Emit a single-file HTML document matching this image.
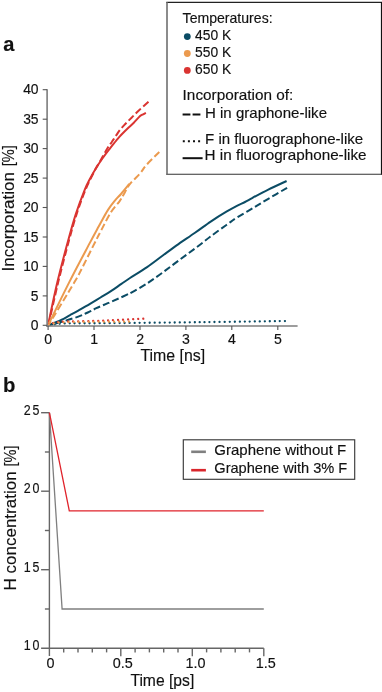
<!DOCTYPE html>
<html><head><meta charset="utf-8"><title>chart</title>
<style>html,body{margin:0;padding:0;background:#fff;}svg{display:block;will-change:transform;}text{font-family:"Liberation Sans",sans-serif;fill:#111;stroke:#111;stroke-width:0.15px;}</style></head><body>
<svg width="382" height="692" viewBox="0 0 382 692">
<rect x="0" y="0" width="382" height="692" fill="#fff"/>
<text x="3.2" y="51" font-size="20" font-weight="bold">a</text>
<g fill="none" stroke-linejoin="round">
<path d="M48.3,325.3 C50.2,324.8 55.0,323.8 60.0,322.3 C65.0,320.9 73.3,318.4 78.3,316.6 C83.3,314.8 87.0,312.8 90.0,311.4 C93.0,310.0 94.0,309.3 96.3,308.2 C98.6,307.1 101.2,306.1 103.6,305.0 C106.0,303.9 108.3,303.0 110.9,301.9 C113.5,300.8 116.3,299.5 119.3,298.2 C122.3,296.9 126.7,294.8 128.7,293.9 C130.7,293.0 128.3,294.4 131.4,292.6 C134.5,290.9 141.9,286.8 147.1,283.4 C152.3,280.0 157.6,276.2 162.8,272.4 C168.0,268.6 173.1,264.6 178.5,260.6 C183.9,256.6 189.6,252.5 195.0,248.5 C200.4,244.5 205.5,240.3 210.7,236.4 C215.9,232.5 222.0,228.1 226.4,225.0 C230.8,221.9 232.5,220.4 236.9,217.6 C241.3,214.8 247.4,211.4 252.6,208.3 C257.8,205.2 262.6,202.2 268.3,198.8 C274.1,195.4 284.0,189.6 287.1,187.8" stroke="#0b4c65" stroke-width="2" stroke-dasharray="7 3.1" stroke-dashoffset="2.20"/>
<path d="M48.1,325.3 C49.5,324.8 54.2,322.9 56.5,322.0 C58.8,321.1 59.4,320.8 61.7,319.7 C64.0,318.6 67.3,316.6 70.1,315.1 C72.9,313.6 75.0,312.5 78.3,310.6 C81.6,308.7 86.3,306.0 90.0,303.8 C93.7,301.6 97.0,299.6 100.5,297.5 C104.0,295.4 107.4,293.5 110.9,291.2 C114.4,288.9 118.2,286.1 121.4,283.9 C124.6,281.7 125.7,280.8 130.0,278.0 C134.3,275.2 141.6,270.9 147.1,267.1 C152.6,263.4 157.6,259.3 162.8,255.5 C168.0,251.7 173.1,247.9 178.5,244.1 C183.9,240.3 189.6,236.6 195.0,232.8 C200.4,229.1 205.5,225.1 210.7,221.6 C215.9,218.1 222.0,214.3 226.4,211.7 C230.8,209.1 233.8,207.4 236.9,205.8 C240.0,204.2 242.4,203.3 245.0,202.0 C247.6,200.7 248.7,199.9 252.6,197.8 C256.5,195.7 262.6,192.4 268.3,189.6 C274.0,186.8 283.6,182.4 286.6,181.0" stroke="#0b4c65" stroke-width="2"/>
<path d="M48.4,325.3 C50.0,318.1 54.8,296.3 58.2,282.1 C61.7,267.9 66.0,251.3 69.1,240.0 C72.2,228.7 73.9,222.4 76.6,214.1 C79.3,205.8 82.3,197.4 85.3,190.3 C88.2,183.2 91.8,176.2 94.3,171.3 C96.8,166.4 98.3,164.4 100.5,160.6 C102.7,156.8 105.4,151.6 107.3,148.5 C109.2,145.4 110.3,144.1 111.8,142.0 C113.2,139.9 114.6,137.9 116.0,135.8 C117.4,133.7 118.6,131.6 120.2,129.6 C121.8,127.6 123.6,125.8 125.5,123.8 C127.4,121.8 129.5,119.8 131.8,117.5 C134.1,115.2 136.3,112.8 139.1,110.2 C141.9,107.6 146.9,103.2 148.5,101.8" stroke="#da3431" stroke-width="2" stroke-dasharray="7 3.1" stroke-dashoffset="9.53"/>
<path d="M48.1,325.3 C49.6,318.1 54.0,296.3 57.4,282.1 C60.8,267.9 65.2,251.3 68.3,240.0 C71.4,228.7 73.1,222.4 75.8,214.1 C78.5,205.8 82.1,196.3 84.5,190.3 C86.9,184.3 88.3,182.0 90.3,178.2 C92.3,174.4 94.2,171.0 96.3,167.7 C98.3,164.4 100.5,161.3 102.6,158.3 C104.7,155.3 106.5,152.8 108.8,149.9 C111.1,147.0 114.1,143.2 116.2,140.7 C118.3,138.2 119.4,136.8 121.3,134.8 C123.2,132.8 125.5,130.5 127.6,128.5 C129.7,126.5 131.7,124.8 133.8,122.7 C135.9,120.6 138.7,117.3 140.1,116.0 C141.5,114.7 141.4,115.2 142.4,114.7 C143.4,114.2 145.3,113.1 145.9,112.8" stroke="#da3431" stroke-width="2"/>
<path d="M48.4,325.3 C52.8,318.1 69.0,291.3 74.5,282.1 C80.0,272.9 78.0,276.0 81.1,270.0 C84.2,264.0 89.8,252.6 93.2,245.9 C96.6,239.2 98.6,235.2 101.6,229.6 C104.5,224.0 107.9,217.0 110.9,212.3 C113.9,207.6 117.4,204.2 119.5,201.3 C121.6,198.4 121.7,197.8 123.4,195.0 C125.1,192.2 126.8,188.0 129.6,184.4 C132.4,180.8 137.2,176.7 140.0,173.5 C142.8,170.3 143.1,168.7 146.3,165.1 C149.5,161.5 157.1,154.2 159.3,152.0" stroke="#eb9a4e" stroke-width="2" stroke-dasharray="7 3.1" stroke-dashoffset="2.06"/>
<path d="M48.1,325.3 C51.6,318.1 62.3,295.9 69.3,282.1 C76.3,268.3 85.1,251.9 90.0,242.6 C94.9,233.3 95.8,231.8 98.8,226.3 C101.8,220.9 105.2,214.3 108.0,209.9 C110.8,205.5 113.3,202.6 115.5,199.9 C117.7,197.2 118.7,196.7 121.0,194.0 C123.3,191.3 127.9,185.6 129.3,183.9" stroke="#eb9a4e" stroke-width="2"/>
<path d="M48.5,325.2 C51.2,324.9 56.4,323.7 65.0,323.4 C73.6,323.1 77.5,323.4 100.0,323.2 C122.5,323.0 168.8,322.6 200.0,322.2 C231.2,321.8 272.5,321.2 287.0,321.0" stroke="#0b4c65" stroke-width="2.3" stroke-linecap="round" stroke-dasharray="0.01 4.99" stroke-dashoffset="-1.3"/>
<path d="M48.5,324.6 C50.4,324.2 52.5,322.5 60.0,321.9 C67.5,321.3 84.1,321.3 93.7,321.0 C103.3,320.7 109.2,320.4 117.5,320.0 C125.8,319.6 139.4,318.9 143.8,318.7" stroke="#da3431" stroke-width="2.3" stroke-linecap="round" stroke-dasharray="0.01 4.99"/>
<path d="M48.5,325.0 C50.4,324.6 53.1,323.0 60.0,322.5 C66.9,322.0 78.3,322.0 90.0,321.9 C101.7,321.8 123.3,321.7 130.0,321.6" stroke="#eb9a4e" stroke-width="2.3" stroke-linecap="round" stroke-dasharray="0.01 4.99" stroke-dashoffset="-0.7"/>
</g>
<g stroke="#7c7c7c" stroke-width="1.6" fill="none">
<path d="M47.1,89.3 V326.8"/>
<path d="M46.3,326.0 H297.6"/>
</g>
<g stroke="#555" stroke-width="1.1" fill="none">
<path d="M42.7,325.3 H47.1"/>
<path d="M42.7,295.9 H47.1"/>
<path d="M42.7,266.4 H47.1"/>
<path d="M42.7,237.0 H47.1"/>
<path d="M42.7,207.5 H47.1"/>
<path d="M42.7,178.1 H47.1"/>
<path d="M42.7,148.6 H47.1"/>
<path d="M42.7,119.2 H47.1"/>
<path d="M42.7,89.7 H47.1"/>
<path d="M48.1,326.0 V330.0"/>
<path d="M94.0,326.0 V330.0"/>
<path d="M140.0,326.0 V330.0"/>
<path d="M185.9,326.0 V330.0"/>
<path d="M231.8,326.0 V330.0"/>
<path d="M277.8,326.0 V330.0"/>
</g>
<text x="38.6" y="330.0" font-size="13.9" text-anchor="end">0</text>
<text x="38.6" y="300.6" font-size="13.9" text-anchor="end">5</text>
<text x="38.6" y="271.1" font-size="13.9" text-anchor="end">10</text>
<text x="38.6" y="241.7" font-size="13.9" text-anchor="end">15</text>
<text x="38.6" y="212.2" font-size="13.9" text-anchor="end">20</text>
<text x="38.6" y="182.8" font-size="13.9" text-anchor="end">25</text>
<text x="38.6" y="153.3" font-size="13.9" text-anchor="end">30</text>
<text x="38.6" y="123.9" font-size="13.9" text-anchor="end">35</text>
<text x="38.6" y="94.4" font-size="13.9" text-anchor="end">40</text>
<text x="48.2" y="343.7" font-size="14.1" text-anchor="middle">0</text>
<text x="94.1" y="343.7" font-size="14.1" text-anchor="middle">1</text>
<text x="140.1" y="343.7" font-size="14.1" text-anchor="middle">2</text>
<text x="186.0" y="343.7" font-size="14.1" text-anchor="middle">3</text>
<text x="231.9" y="343.7" font-size="14.1" text-anchor="middle">4</text>
<text x="277.9" y="343.7" font-size="14.1" text-anchor="middle">5</text>
<text x="140.4" y="361.4" font-size="16.4" textLength="64.7" lengthAdjust="spacingAndGlyphs">Time [ns]</text>
<text transform="translate(14.1,271.4) rotate(-90)" font-size="16.4" textLength="99.4" lengthAdjust="spacingAndGlyphs">Incorporation</text>
<text transform="translate(14.1,166.2) rotate(-90)" font-size="15.6" textLength="21.1" lengthAdjust="spacingAndGlyphs">[%]</text>
<rect x="167" y="2.4" width="214.5" height="171.8" fill="#fff"/>
<path d="M166.3,2.4 H382" stroke="#222" stroke-width="1.1" fill="none"/>
<path d="M381.5,2 V174.7" stroke="#111" stroke-width="1.2" fill="none"/>
<path d="M166.3,174.2 H382" stroke="#333" stroke-width="1.1" fill="none"/>
<path d="M167,2 V174.7" stroke="#666" stroke-width="1.5" fill="none"/>
<text x="182.6" y="23.3" font-size="14.3" textLength="90" lengthAdjust="spacingAndGlyphs">Temperatures:</text>
<circle cx="187.3" cy="36.6" r="3.4" fill="#0b4c65"/>
<text x="195" y="39.9" font-size="14.3" textLength="36.2" lengthAdjust="spacingAndGlyphs">450 K</text>
<circle cx="187.3" cy="53.5" r="3.4" fill="#eb9a4e"/>
<text x="195" y="56.8" font-size="14.3" textLength="36.2" lengthAdjust="spacingAndGlyphs">550 K</text>
<circle cx="187.3" cy="70.4" r="3.4" fill="#da3431"/>
<text x="195" y="73.7" font-size="14.3" textLength="36.2" lengthAdjust="spacingAndGlyphs">650 K</text>
<text x="182.6" y="99.5" font-size="14.3" textLength="110.8" lengthAdjust="spacingAndGlyphs">Incorporation of:</text>
<path d="M182.6,114.6 H200.4" stroke="#111" stroke-width="2" stroke-dasharray="7.8 2.2" fill="none"/>
<text x="205" y="117.5" font-size="14.3" textLength="122" lengthAdjust="spacingAndGlyphs">H in graphone-like</text>
<path d="M182.8,141.3 H201" stroke="#111" stroke-width="2" stroke-dasharray="2 3.1" fill="none"/>
<text x="205" y="143.5" font-size="14.3" textLength="158.2" lengthAdjust="spacingAndGlyphs">F in fluorographone-like</text>
<path d="M182.6,158.2 H202.6" stroke="#111" stroke-width="2" fill="none"/>
<text x="204.6" y="160.2" font-size="14.3" textLength="162" lengthAdjust="spacingAndGlyphs">H in fluorographone-like</text>
<text x="3" y="392.1" font-size="20.3" font-weight="bold">b</text>
<g stroke="#666" stroke-width="1.4" fill="none">
<path d="M49.4,412.7 V656.0"/>
<path d="M41.1,648.2 H263.8"/>
<path d="M41.1,569.7 H49.4"/>
<path d="M41.1,491.2 H49.4"/>
<path d="M41.1,412.7 H49.4"/>
<path d="M44.9,609.0 H49.4"/>
<path d="M44.9,530.5 H49.4"/>
<path d="M44.9,452.0 H49.4"/>
<path d="M63.7,648.2 V652.4"/>
<path d="M78.0,648.2 V652.4"/>
<path d="M92.3,648.2 V652.4"/>
<path d="M106.6,648.2 V652.4"/>
<path d="M120.8,648.2 V656.2"/>
<path d="M135.1,648.2 V652.4"/>
<path d="M149.4,648.2 V652.4"/>
<path d="M163.7,648.2 V652.4"/>
<path d="M178.0,648.2 V652.4"/>
<path d="M192.3,648.2 V656.2"/>
<path d="M206.6,648.2 V652.4"/>
<path d="M220.9,648.2 V652.4"/>
<path d="M235.2,648.2 V652.4"/>
<path d="M249.5,648.2 V652.4"/>
<path d="M263.8,648.2 V656.2"/>
</g>
<path d="M49.4,412.7 L62.1,609.0 H263.8" fill="none" stroke="#7f7f7f" stroke-width="1.3" stroke-linejoin="miter"/>
<path d="M49.4,412.7 L69.3,510.8 H263.8" fill="none" stroke="#e0232b" stroke-width="1.3" stroke-linejoin="miter"/>
<text transform="translate(27.2,650.1) scale(0.87,1)" font-size="14.3" text-anchor="middle">1</text>
<text transform="translate(36.0,650.1) scale(0.87,1)" font-size="14.3" text-anchor="middle">0</text>
<text transform="translate(27.2,571.6) scale(0.87,1)" font-size="14.3" text-anchor="middle">1</text>
<text transform="translate(36.0,571.6) scale(0.87,1)" font-size="14.3" text-anchor="middle">5</text>
<text transform="translate(27.2,493.1) scale(0.87,1)" font-size="14.3" text-anchor="middle">2</text>
<text transform="translate(36.0,493.1) scale(0.87,1)" font-size="14.3" text-anchor="middle">0</text>
<text transform="translate(27.2,414.6) scale(0.87,1)" font-size="14.3" text-anchor="middle">2</text>
<text transform="translate(36.0,414.6) scale(0.87,1)" font-size="14.3" text-anchor="middle">5</text>
<text x="50.5" y="667.7" font-size="14.4" text-anchor="middle">0</text>
<text x="122.8" y="667.7" font-size="14.4" text-anchor="middle">0.5</text>
<text x="195.5" y="667.7" font-size="14.4" text-anchor="middle">1.0</text>
<text x="265.8" y="667.7" font-size="14.4" text-anchor="middle">1.5</text>
<text x="130.4" y="685.8" font-size="16.4" textLength="63.9" lengthAdjust="spacingAndGlyphs">Time [ps]</text>
<text transform="translate(16,590.4) rotate(-90)" font-size="16.4" textLength="119" lengthAdjust="spacingAndGlyphs">H concentration</text>
<text transform="translate(16,466.6) rotate(-90)" font-size="15.6" textLength="21.1" lengthAdjust="spacingAndGlyphs">[%]</text>
<rect x="183.3" y="439.8" width="171.4" height="39.5" fill="#fff" stroke="#3a3a3a" stroke-width="1.15"/>
<path d="M191.2,451.8 H205.9" stroke="#808080" stroke-width="2.6" fill="none"/>
<path d="M191.2,470.2 H205.9" stroke="#d9262c" stroke-width="2.6" fill="none"/>
<text x="214.3" y="455.4" font-size="14.6" textLength="131.9" lengthAdjust="spacingAndGlyphs">Graphene without F</text>
<text x="214.3" y="473.3" font-size="14.6" textLength="133" lengthAdjust="spacingAndGlyphs">Graphene with 3% F</text>
</svg></body></html>
